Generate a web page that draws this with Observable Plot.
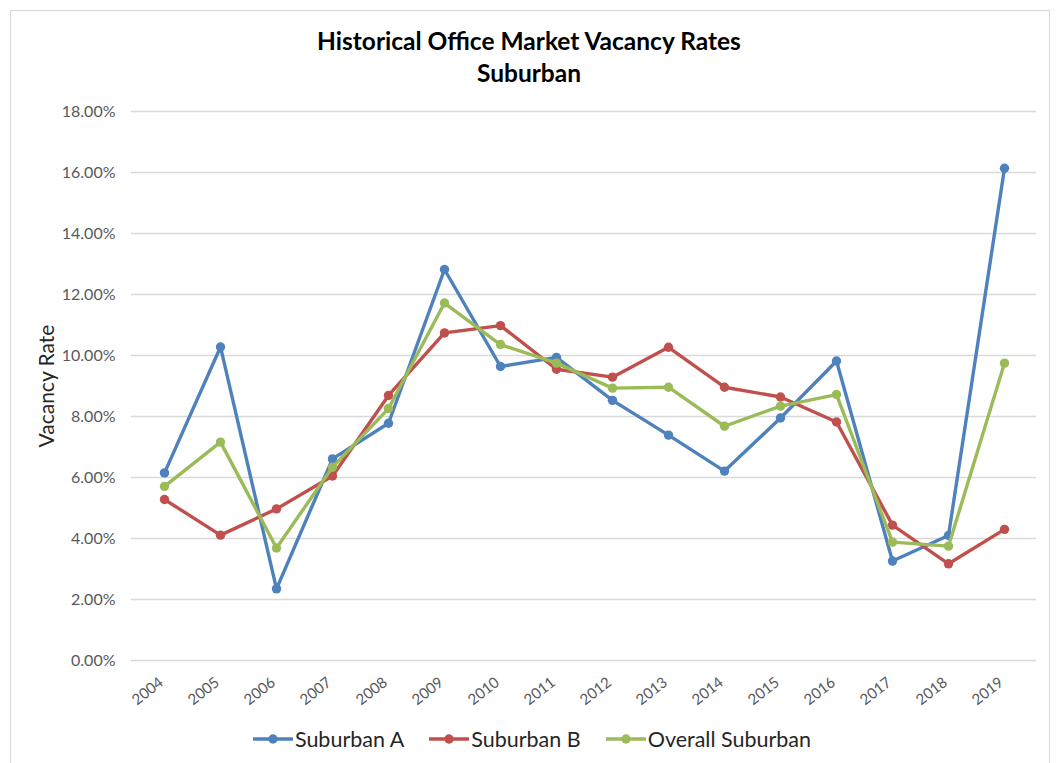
<!DOCTYPE html>
<html>
<head>
<meta charset="utf-8">
<script src="https://cdn.jsdelivr.net/npm/d3@7"></script>
<script src="https://cdn.jsdelivr.net/npm/@observablehq/plot@0.6"></script>
<style>
  html, body { margin: 0; padding: 0; background: #fff; overflow: hidden; }
  #wrap { position: relative; width: 1058px; height: 763px; font-family: Lato, "Open Sans", sans-serif; }
  #frame { position: absolute; left: 10px; top: 10px; width: 1040px; height: 800px; border: 1.5px solid #d9d9d9; box-sizing: border-box; pointer-events: none; }
  #title { height: 100px; box-sizing: border-box; padding-top: 25px; text-align: center; font-weight: bold; font-size: 24.5px; line-height: 32px; color: #000; }
  #legend { height: 43px; display: flex; justify-content: center; align-items: center; gap: 25px; padding-left: 6px; padding-bottom: 6px; box-sizing: border-box; font-size: 21.5px; color: #262626; }
  .item { display: flex; align-items: center; }
  .item svg { margin-right: 2px; }
  svg.plot { display: block; }
</style>
</head>
<body>
<div id="wrap">
  <div id="frame"></div>
  <div id="title">Historical Office Market Vacancy Rates<br>Suburban</div>
  <div id="chart"></div>
  <div id="legend"></div>
</div>
<script>
const years = ["2004","2005","2006","2007","2008","2009","2010","2011","2012","2013","2014","2015","2016","2017","2018","2019"];
const seriesNames = ["Suburban A", "Suburban B", "Overall Suburban"];
const suburbanA = [6.15, 10.28, 2.35, 6.61, 7.78, 12.82, 9.64, 9.94, 8.53, 7.39, 6.21, 7.95, 9.82, 3.26, 4.10, 16.14];
const suburbanB = [5.28, 4.11, 4.97, 6.05, 8.69, 10.74, 10.98, 9.55, 9.29, 10.27, 8.96, 8.64, 7.82, 4.44, 3.17, 4.30];
const overall   = [5.71, 7.16, 3.69, 6.34, 8.26, 11.72, 10.36, 9.75, 8.93, 8.96, 7.68, 8.34, 8.72, 3.88, 3.75, 9.75];
const yTicks = [0, 2, 4, 6, 8, 10, 12, 14, 16, 18];
const colors = ["#4F81BD", "#C0504D", "#9BBB59"];

const seriesValues = [suburbanA, suburbanB, overall];
const rows = seriesNames.map((name, i) => years.map((year, j) => ({series: name, year, value: seriesValues[i][j]})));

const marks = [
  Plot.gridY(yTicks, {stroke: "#d9d9d9", strokeOpacity: 1, strokeWidth: 1.5}),
  Plot.axisY(yTicks, {tickSize: 0, tickPadding: 16, tickFormat: d => d.toFixed(2) + "%", fontSize: 16, fill: "#595959", label: null}),
  Plot.axisX({tickSize: 0, tickRotate: -38, tickPadding: 20, dx: -3, fontSize: 15, fill: "#595959", label: null}),
  Plot.text(["Vacancy Rate"], {frameAnchor: "left", textAnchor: "middle", rotate: -90, dx: -84, fontSize: 21, fill: "#262626"})
];
rows.forEach(data => {
  marks.push(Plot.line(data, {x: "year", y: "value", stroke: "series", strokeWidth: 3.4}));
  marks.push(Plot.dot(data, {x: "year", y: "value", fill: "series", r: 4.7}));
});

const chart = Plot.plot({
  width: 1058,
  height: 620,
  marginTop: 11,
  marginBottom: 60,
  marginLeft: 131,
  marginRight: 22,
  style: {fontFamily: "Lato, 'Open Sans', sans-serif", background: "transparent", overflow: "visible"},
  x: {type: "point", domain: years, padding: 0.5},
  y: {domain: [0, 18]},
  color: {domain: seriesNames, range: colors},
  marks
});
document.getElementById("chart").appendChild(chart);

const legend = document.getElementById("legend");
seriesNames.forEach((name, i) => {
  const item = document.createElement("div");
  item.className = "item";
  item.innerHTML = `<svg width="40" height="12"><line x1="0" y1="6" x2="40" y2="6" stroke="${colors[i]}" stroke-width="3.4"/><circle cx="20" cy="6" r="4.7" fill="${colors[i]}"/></svg><span>${name}</span>`;
  legend.appendChild(item);
});
</script>
</body>
</html>
